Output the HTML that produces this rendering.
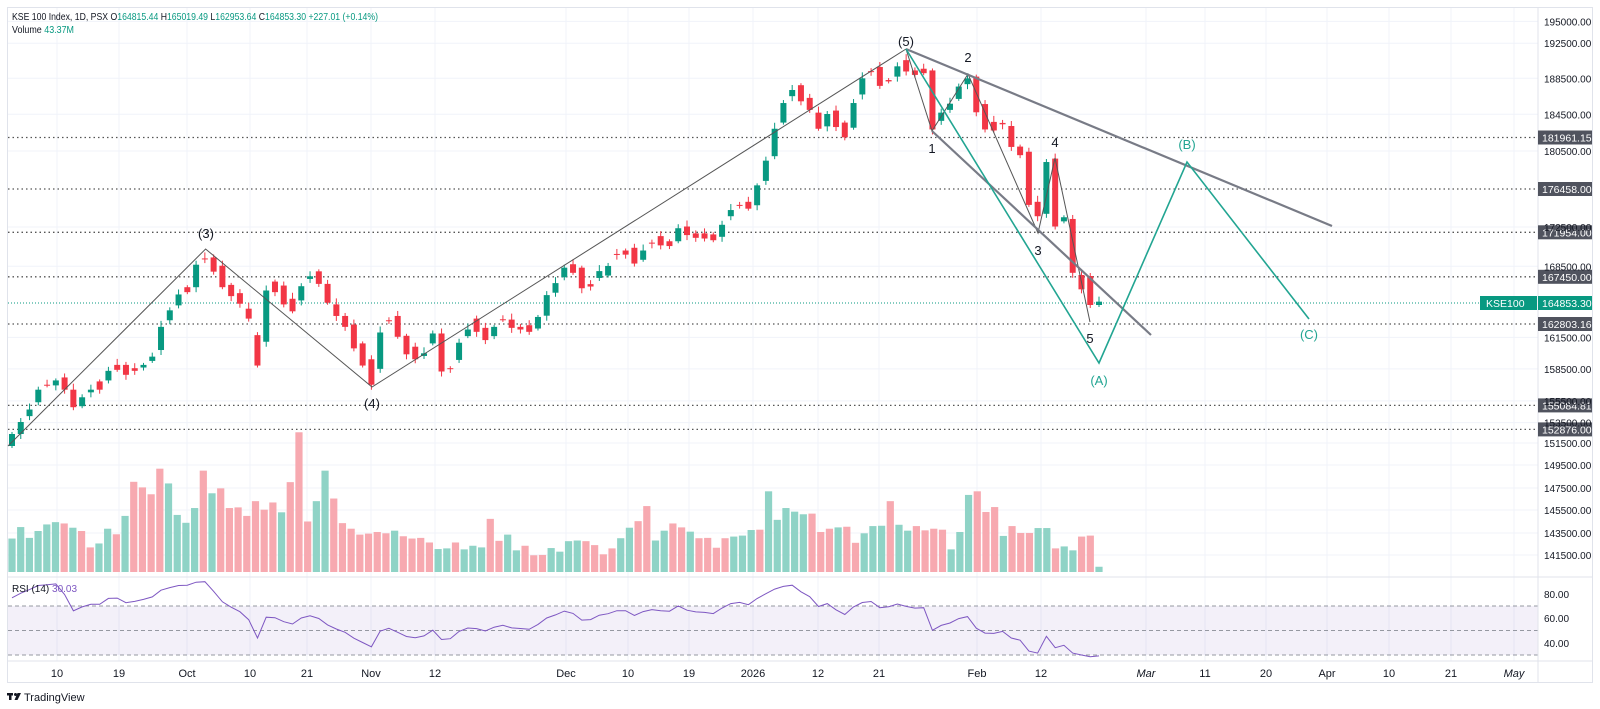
<!DOCTYPE html>
<html><head><meta charset="utf-8">
<style>
html,body{margin:0;padding:0;background:#fff;}
svg{display:block;font-family:"Liberation Sans",sans-serif;}
</style></head>
<body>
<svg id="s" width="1600" height="709" viewBox="0 0 1600 709" xmlns="http://www.w3.org/2000/svg">
<rect x="0" y="0" width="1600" height="709" fill="#fff"/>
<rect x="7.5" y="7.5" width="1585" height="675" fill="none" stroke="#e0e3eb"/>
<g id="grid"></g>
<rect x="8" y="606" width="1530" height="49" fill="#7e57c2" fill-opacity="0.09"/>
<line x1="8" y1="606" x2="1538" y2="606" stroke="#9598a1" stroke-dasharray="4,3"/>
<line x1="8" y1="630.5" x2="1538" y2="630.5" stroke="#9598a1" stroke-dasharray="4,3"/>
<line x1="8" y1="655" x2="1538" y2="655" stroke="#9598a1" stroke-dasharray="4,3"/>
<line x1="8" y1="577" x2="1592" y2="577" stroke="#e0e3eb"/>
<line x1="1538" y1="8" x2="1538" y2="683" stroke="#e0e3eb"/>
<line x1="8" y1="661" x2="1592" y2="661" stroke="#e0e3eb"/>
<g id="vol"></g>
<g id="dots"></g>
<g id="candles"></g>
<polyline id="rsi" fill="none" stroke="#7e57c2" stroke-width="1"/>
<g fill="none" stroke="#555" stroke-width="1">
<polyline points="8,446 205.6,249 372,387 906,49"/>
<polyline points="906,49 932,131 968,74 1038,233 1055,158 1090,322"/>
</g>
<g fill="none" stroke="#787b86" stroke-width="2.2">
<line x1="906" y1="49" x2="1332" y2="226"/>
<line x1="932" y1="131" x2="1151" y2="335"/>
</g>
<polyline points="906,49 1099,363 1187,162 1309,319" fill="none" stroke="#22a592" stroke-width="1.6"/>
<g font-size="13" fill="#131722" text-anchor="middle">
<text x="206" y="238">(3)</text><text x="372" y="408">(4)</text><text x="906" y="46">(5)</text>
<text x="932" y="153">1</text><text x="968" y="62">2</text><text x="1038" y="255">3</text><text x="1055" y="147">4</text><text x="1090" y="343">5</text>
<g fill="#22a592"><text x="1099" y="385">(A)</text><text x="1187" y="149">(B)</text><text x="1309" y="339">(C)</text></g>
</g>
<g id="axis" font-size="10" fill="#131722"></g>
<g id="time" font-size="11" fill="#131722" text-anchor="middle"></g>
<text x="12" y="20" font-size="10.5" fill="#131722" textLength="366" lengthAdjust="spacingAndGlyphs">KSE 100 Index, 1D, PSX  O<tspan fill="#089981">164815.44</tspan>  H<tspan fill="#089981">165019.49</tspan>  L<tspan fill="#089981">162953.64</tspan>  C<tspan fill="#089981">164853.30</tspan>  <tspan fill="#089981">+227.01 (+0.14%)</tspan></text>
<text x="12" y="33" font-size="10.5" fill="#131722" textLength="62" lengthAdjust="spacingAndGlyphs">Volume  <tspan fill="#089981">43.37M</tspan></text>
<text x="12" y="592" font-size="10" fill="#131722">RSI (14)  <tspan fill="#7e57c2">30.03</tspan></text>
<g transform="translate(7,693)"><rect x="0" y="0" width="6" height="2.5" fill="#131722"/><rect x="2" y="0" width="2.5" height="7" fill="#131722"/><circle cx="8.5" cy="1.5" r="1.5" fill="#131722"/><path d="M10.5 0 L14 0 L10.5 7 L7.5 7 Z" fill="#131722"/></g>
<text x="24" y="701" font-size="11" fill="#131722">TradingView</text>
</svg>
<script>
var NS="http://www.w3.org/2000/svg";
function el(p,t,a,txt){var e=document.createElementNS(NS,t);for(var k in a)e.setAttribute(k,a[k]);if(txt!==undefined)e.textContent=txt;document.getElementById(p).appendChild(e);return e;}
var labs=[[195000,21.4],[192500,43.2],[188500,78.3],[184500,114.3],[180500,151],[172500,227],[168500,266.3],[161500,337.4],[158500,368.9],[155500,400.9],[153500,422.6],[151500,443],[149500,465],[147500,488],[145500,510],[143500,533],[141500,555]];
labs.forEach(function(l){el("grid","line",{x1:8,x2:1538,y1:l[1],y2:l[1],stroke:"#f0f3fa"});el("axis","text",{x:1544,y:l[1]+4},l[0].toFixed(2));});
[[80,594],[60,618],[40,643]].forEach(function(l){el("axis","text",{x:1544,y:l[1]+4},l[0].toFixed(2));});
var tl=[["10",57],["19",119],["Oct",187],["10",250],["21",307],["Nov",371],["12",435],["Dec",566],["10",628],["19",689],["2026",753],["12",818],["21",879],["Feb",977],["12",1041],["Mar",1146],["11",1205],["20",1266],["Apr",1327],["10",1389],["21",1451],["May",1514]];
tl.forEach(function(t){el("grid","line",{x1:t[1],x2:t[1],y1:8,y2:661,stroke:"#f0f3fa"});var a={x:t[1],y:677};if(t[0]=="Mar"||t[0]=="May")a["font-style"]="italic";el("time","text",a,t[0]);});
var lv=[["181961.15",137.5],["176458.00",189],["171954.00",232.3],["167450.00",276.8],["162803.16",324],["155084.81",405.4],["152876.00",429.4]];
lv.forEach(function(l){el("dots","line",{x1:8,x2:1538,y1:l[1],y2:l[1],stroke:"#555","stroke-width":1.3,"stroke-dasharray":"1.5,3"});el("dots","rect",{x:1538,y:l[1]-7,width:54,height:14,fill:"#50535e"});el("dots","text",{x:1542,y:l[1]+4,"font-size":"10.5",fill:"#fff"},l[0]);});
el("dots","line",{x1:8,x2:1538,y1:303,y2:303,stroke:"#089981","stroke-width":1,"stroke-dasharray":"1,2"});
el("dots","rect",{x:1480,y:296,width:57,height:14,fill:"#089981"});
el("dots","text",{x:1486,y:307,"font-size":"10.5",fill:"#fff"},"KSE100");
el("dots","rect",{x:1538,y:296,width:54,height:14,fill:"#089981"});
el("dots","text",{x:1542,y:307,"font-size":"10.5",fill:"#fff"},"164853.30");
var c=[[446,434],[434,422]];
var z3=[[720,700],[678,640],[625,627],[627,612],[603,640],[640,693],[690,663],[648,640],[615,640],[612,583],[565,580],[565,595],[575,583],[573,565],[553,540],[520,450],[430,400],[385,352],[330,345],[330,262],[243,245],[240,283],[265,330],[323,357],[348,380],[395,425],[475,567],[495,340],[313,345],[325,382],[365,403],[370,327],[305,297],[282,320],[320,377],[382,417],[417,450],[443,515],[500,567],[548,625],[577,467],[430,432],[417,480],[477,533],[510,548],[538,530],[500,470],[470,585],[575,577],[550,498],[478,458],[425,465],[453,490],[478,450],[427,429],[428,453],[450,458],[445,465],[455,420]];
z3.forEach(function(p){c.push([178.1+0.3306*p[0],178.1+0.3306*p[1]]);});
var z4=[[830,770],[763,735],[718,690],[680,705],[690,750],[738,745],[720,700],[713,685],[650,652],[640,652],[632,678],[667,640],[617,619],[598,625],[613,627],[613,575],[570,595],[590,603],[590,605],[593,610],[600,565],[540,522],[507,509],[498,518],[508,450],[437,378],[365,285],[267,210],[190,172],[158,205],[195,230],[238,285],[278,242],[232,280],[267,310],[282,210],[185,138],[117,119],[105,160],[143,147],[133,103],[85,118],[115,128],[110,123],[115,287],[262,238],[230,212],[198,162],[155,138],[133,237],[213,287],[265,290],[268,272],[277,338],[337,362],[352,507],[498,540],[533,382],[372,570],[555,543],[548,705]];
z4.forEach(function(p){c.push([31+0.343*p[0],31+0.343*p[1]]);});
[[375,418],[378,465],[465,455]].forEach(function(p){c.push([150+p[0]/3,150+p[1]/3]);});
var N=c.length,x0=12,dx=(1099-12)/(N-1);
c.forEach(function(p,i){var x=x0+i*dx,o=p[0],cl=p[1],up=cl<=o,col=up?"#089981":"#f23645";
var top=Math.min(o,cl),bot=Math.max(o,cl),w=((i*7)%5)+2;
el("candles","line",{x1:x,x2:x,y1:top-w,y2:bot+((i*3)%4)+2,stroke:col,"stroke-width":1});
el("candles","rect",{x:x-3,y:top,width:6,height:Math.max(1,bot-top),fill:col});});
var vs="G390,G355,G388,G367,G347,G340,R344,G357,R367,R417,G405,G360,R377,G321,R217,R234,R255,R177,G222,G318,G342,G297,R183,G252,R237,R297,R295,R321,R276,R302,R280,G310,R218,R66,R338,G276,G183,R268,R343,R360,R378,R375,R370,R374,G366,R383,R390,R388,R402,G422,G420,R402,G423,G412,G417,R330,R397,G378,G426,R412,R441,R440,G419,G430,G398,G396,R398,R410,R438,R420,G389,G357,R337,R291,G396,G366,R344,R356,G369,R389,R388,R418,R389,G384,G381,G364,R363,G246,G333,G297,G308,G316,R314,R370,R360,G356,R354,R403,G374,G352,G351,R276,G348,G366,R352,R365,R360,R363,G423,G370,G257,R246,R309,R294,G382,R352,R373,R373,G358,G358,R420,G414,G426,R384,R381,G476".split(",");
var vdx=(1099-12)/(vs.length-1);
vs.forEach(function(v,i){var h=(492-parseInt(v.slice(1)))*0.328;var x=12+i*vdx;
el("vol","rect",{x:x-3.6,y:572-h,width:7.2,height:h,fill:v[0]=="G"?"#8fd3c6":"#f7a9b0"});});
var ag=4,al=1.2,pts=[];
for(var i=0;i<N;i++){var d=i==0?0:(c[i-1][1]-c[i][1]);var g=d>0?d:0,l=d<0?-d:0;ag=(ag*13+g)/14;al=(al*13+l)/14;var r=100-100/(1+ag/al);
pts.push((x0+i*dx).toFixed(1)+","+(594+(80-r)*1.225).toFixed(1));}
document.getElementById("rsi").setAttribute("points",pts.join(" "));
</script>
</body></html>
